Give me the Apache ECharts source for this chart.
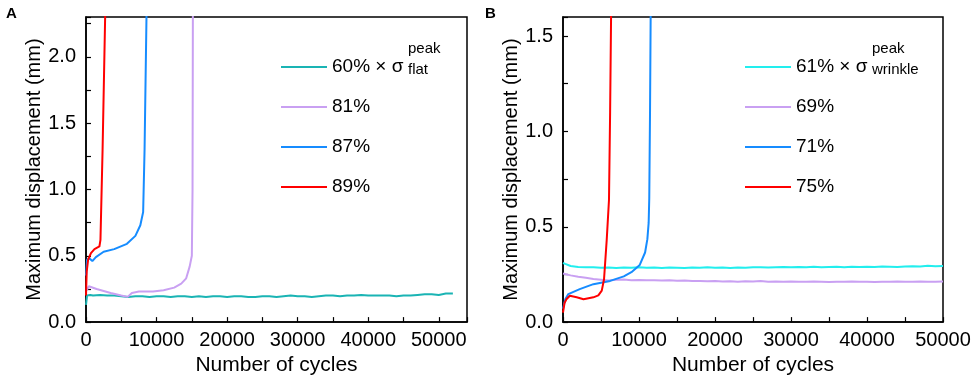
<!DOCTYPE html>
<html>
<head>
<meta charset="utf-8">
<script src="https://cdn.jsdelivr.net/npm/echarts@6/dist/echarts.min.js"></script>
<style>
  html, body { margin: 0; padding: 0; background: #fff; }
  #main { width: 976px; height: 381px; }
</style>
</head>
<body>
<div id="main"></div>
<script>
// panel A: flat, [cycles, displacement mm]
const namesA = ['60% × σ', '81%', '87%', '89%'];
const a60 = [[0,0.13],[150,0.20],[600,0.205],[1000,0.2],[2000,0.205],[3000,0.2],[4000,0.2],[5000,0.195],[6000,0.19],[7000,0.195],[8000,0.195],[9000,0.19],[10000,0.195],[11000,0.195],[12000,0.19],[13000,0.195],[14000,0.195],[15000,0.19],[16000,0.195],[17000,0.19],[18000,0.195],[19000,0.195],[20000,0.19],[21000,0.195],[22000,0.195],[23000,0.19],[24000,0.19],[25000,0.195],[26000,0.195],[27000,0.19],[28000,0.195],[29000,0.2],[30000,0.195],[31000,0.195],[32000,0.19],[33000,0.195],[34000,0.2],[35000,0.2],[36000,0.195],[37000,0.2],[38000,0.2],[39000,0.205],[40000,0.2],[41000,0.2],[42000,0.2],[43000,0.2],[44000,0.195],[45000,0.2],[46000,0.2],[47000,0.205],[48000,0.21],[49000,0.21],[50000,0.205],[51000,0.215],[52000,0.215]];
const a81 = [[100,0.24],[400,0.27],[1500,0.25],[3500,0.22],[5000,0.2],[5900,0.19],[6500,0.22],[7500,0.23],[9500,0.23],[11000,0.24],[12500,0.26],[13500,0.29],[14200,0.33],[14700,0.42],[15000,0.5],[15100,1.0],[15150,2.4]];
const a87 = [[0,0.35],[150,0.47],[500,0.48],[900,0.46],[1400,0.49],[2500,0.53],[4000,0.55],[5800,0.59],[7000,0.65],[7700,0.73],[8100,0.83],[8300,1.3],[8600,2.4]];
const a89 = [[0,0.2],[100,0.38],[300,0.47],[700,0.52],[1200,0.55],[1900,0.57],[2050,0.62],[2350,1.3],[2750,2.4]];

// panel B: wrinkle
const namesB = ['61% × σ', '69%', '71%', '75%'];
const b61 = [[0,0.31],[300,0.305],[1000,0.294],[2000,0.289],[3000,0.287],[4000,0.288],[5000,0.285],[6000,0.286],[7000,0.284],[8000,0.286],[9000,0.285],[10000,0.287],[11000,0.285],[12000,0.286],[13000,0.284],[14000,0.286],[15000,0.285],[16000,0.284],[17000,0.286],[18000,0.285],[19000,0.287],[20000,0.285],[21000,0.286],[22000,0.284],[23000,0.286],[24000,0.285],[25000,0.287],[26000,0.288],[27000,0.286],[28000,0.288],[29000,0.289],[30000,0.287],[31000,0.289],[32000,0.288],[33000,0.29],[34000,0.288],[35000,0.289],[36000,0.29],[37000,0.288],[38000,0.29],[39000,0.289],[40000,0.29],[41000,0.289],[42000,0.291],[43000,0.29],[44000,0.289],[45000,0.291],[46000,0.293],[47000,0.292],[48000,0.295],[49000,0.293],[50000,0.294]];
const b69 = [[0,0.255],[500,0.25],[1000,0.245],[2000,0.238],[3000,0.232],[4000,0.226],[5000,0.222],[6000,0.218],[7000,0.222],[8000,0.223],[9000,0.22],[10000,0.221],[11000,0.219],[12000,0.22],[13000,0.218],[14000,0.219],[15000,0.217],[16000,0.218],[17000,0.215],[18000,0.216],[19000,0.214],[20000,0.215],[21000,0.213],[22000,0.214],[23000,0.212],[24000,0.214],[25000,0.213],[26000,0.215],[27000,0.212],[28000,0.213],[29000,0.211],[30000,0.213],[31000,0.212],[32000,0.211],[33000,0.213],[34000,0.212],[35000,0.21],[36000,0.212],[37000,0.211],[38000,0.213],[39000,0.211],[40000,0.212],[41000,0.21],[42000,0.212],[43000,0.211],[44000,0.213],[45000,0.212],[46000,0.211],[47000,0.213],[48000,0.212],[49000,0.211],[50000,0.213]];
const b71 = [[0,0.07],[300,0.12],[700,0.147],[2200,0.173],[4000,0.199],[6200,0.216],[8000,0.24],[9000,0.262],[10100,0.3],[10800,0.365],[11100,0.435],[11270,0.52],[11350,0.65],[11450,1.1],[11550,1.7]];
const b75 = [[0,0.05],[200,0.1],[450,0.12],[900,0.138],[1800,0.13],[2700,0.12],[4000,0.13],[4650,0.14],[5100,0.165],[5400,0.225],[5750,0.43],[6050,0.64],[6200,1.1],[6350,1.7]];

const colorsA = ['#1ab4b4', '#c9a0f2', '#168cff', '#ff0000'];
const colorsB = ['#22eeee', '#c9a0f2', '#168cff', '#ff0000'];

const FONT = 'Liberation Sans, Arial, sans-serif';
const chart = echarts.init(document.getElementById('main'));

function onStep(step, digits) {
  return function (v) {
    const k = v / step;
    return Math.abs(k - Math.round(k)) < 1e-6 ? v.toFixed(digits) : '';
  };
}

function xAxisCfg(grid, max) {
  return {
    gridIndex: grid, type: 'value', min: 0, max: max, interval: 5000,
    name: 'Number of cycles', nameLocation: 'middle', nameGap: 26,
    nameTextStyle: { fontSize: 21, color: '#000', fontFamily: FONT },
    axisLine: { lineStyle: { color: '#000', width: 1.5 } },
    axisTick: { inside: true, length: 5, lineStyle: { color: '#000', width: 1.2 } },
    axisLabel: { formatter: onStep(10000, 0), fontSize: 20, color: '#000', fontFamily: FONT, margin: 8 },
    splitLine: { show: false }
  };
}
function yAxisCfg(grid, max, gap) {
  return {
    gridIndex: grid, type: 'value', min: 0, max: max, interval: 0.25,
    name: 'Maximum displacement (mm)', nameLocation: 'middle', nameGap: gap,
    nameTextStyle: { fontSize: 20, color: '#000', fontFamily: FONT },
    axisLine: { lineStyle: { color: '#000', width: 1.5 } },
    axisTick: { inside: true, length: 5, lineStyle: { color: '#000', width: 1.2 } },
    axisLabel: { formatter: onStep(0.5, 1), fontSize: 20, color: '#000', fontFamily: FONT, margin: 10 },
    splitLine: { show: false }
  };
}
function lineSeries(name, data, color, idx) {
  return {
    name: name, type: 'line', data: data, xAxisIndex: idx, yAxisIndex: idx,
    showSymbol: false, symbol: 'none', clip: true, animation: false,
    lineStyle: { color: color, width: 2 }, itemStyle: { color: color }
  };
}
function legendCfg(names, left) {
  return {
    data: names, orient: 'vertical', left: left, top: 52,
    icon: 'rect', itemWidth: 46, itemHeight: 2, itemGap: 20,
    textStyle: { fontSize: 19, color: '#000', fontFamily: FONT, lineHeight: 20 }
  };
}

const option = {
  backgroundColor: '#fff',
  animation: false,
  grid: [
    { left: 86, top: 17, width: 381, height: 306, show: true, borderColor: '#000', borderWidth: 1.5 },
    { left: 563, top: 17, width: 380, height: 306, show: true, borderColor: '#000', borderWidth: 1.5 }
  ],
  xAxis: [xAxisCfg(0, 54000), xAxisCfg(1, 50000)],
  yAxis: [yAxisCfg(0, 2.3, 42), yAxisCfg(1, 1.6, 40)],
  legend: [legendCfg(namesA, 276), legendCfg(namesB, 740)],
  series: [
    lineSeries(namesA[0], a60, colorsA[0], 0),
    lineSeries(namesA[1], a81, colorsA[1], 0),
    lineSeries(namesA[2], a87, colorsA[2], 0),
    lineSeries(namesA[3], a89, colorsA[3], 0),
    lineSeries(namesB[0], b61, colorsB[0], 1),
    lineSeries(namesB[1], b69, colorsB[1], 1),
    lineSeries(namesB[2], b71, colorsB[2], 1),
    lineSeries(namesB[3], b75, colorsB[3], 1)
  ],
  graphic: [
    { type: 'text', left: 6, top: 6, style: { text: 'A', font: 'bold 15px ' + FONT, fill: '#000' } },
    { type: 'text', left: 485, top: 6, style: { text: 'B', font: 'bold 15px ' + FONT, fill: '#000' } },
    { type: 'text', left: 408, top: 41, style: { text: 'peak', font: '15px ' + FONT, fill: '#000' } },
    { type: 'text', left: 408, top: 62, style: { text: 'flat', font: '15px ' + FONT, fill: '#000' } },
    { type: 'text', left: 872, top: 41, style: { text: 'peak', font: '15px ' + FONT, fill: '#000' } },
    { type: 'text', left: 872, top: 62, style: { text: 'wrinkle', font: '15px ' + FONT, fill: '#000' } }
  ]
};

chart.setOption(option);
</script>
</body>
</html>
